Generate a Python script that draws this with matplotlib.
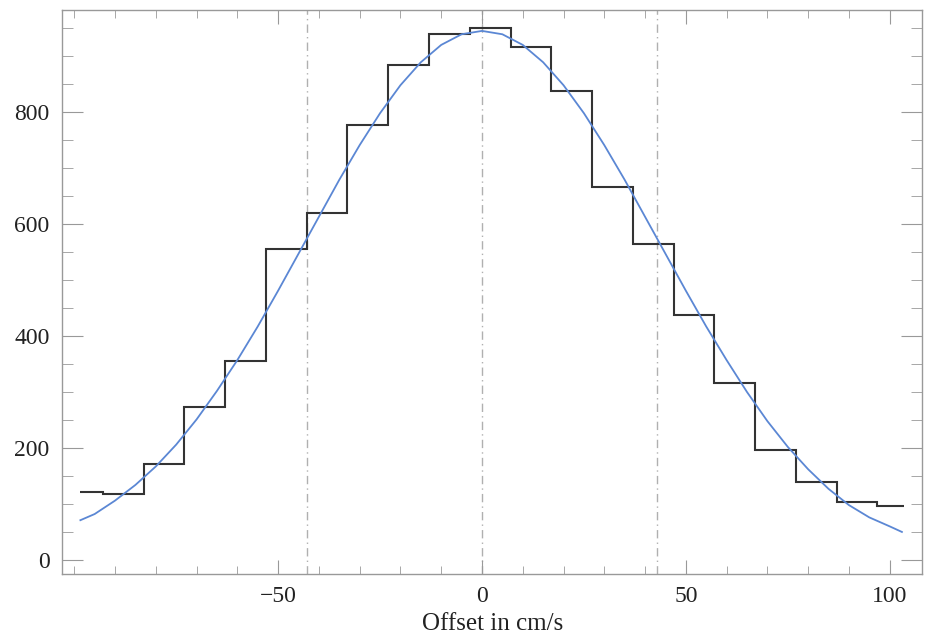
import numpy as np
import matplotlib
matplotlib.use("Agg")
from matplotlib import pyplot as plt
from matplotlib.ticker import MultipleLocator

# histogram
bin_edges = [-98.5, -93, -83, -73, -63, -53, -43, -33, -23, -13, -3,
             7, 17, 27, 37, 47, 57, 67, 77, 87, 97, 103.5]
counts = [121, 117, 171, 274, 356, 555, 620, 777, 884, 939, 950,
          917, 838, 667, 564, 437, 316, 196, 139, 103, 96]

# fitted curve
fit_x = [-98.5, -95, -90, -85, -80, -75, -70, -65, -60, -55, -50, -45, -40,
         -35, -30, -25, -20, -15, -10, -5, 0, 5, 10, 15, 20, 25, 30, 35, 40,
         45, 50, 55, 60, 65, 70, 75, 80, 85, 90, 95, 100, 103]
fit_y = [71, 82, 106, 134, 167, 206, 251, 302, 357, 417, 481, 547, 613,
         679, 741, 798, 848, 889, 920, 939, 945, 939, 920, 889, 848, 798,
         741, 679, 613, 547, 481, 417, 357, 300, 248, 202, 162, 127, 98,
         76, 60, 50]

# mean and +-sigma markers
marker_x = [-43, 0, 43]

plt.rcParams['font.family'] = ['Liberation Serif', 'DejaVu Serif']

fig = plt.figure(figsize=(9.26, 6.37), dpi=100)
ax = fig.add_axes([0.067, 0.099, 0.929, 0.885])

for xv in marker_x:
    ax.axvline(xv, color='#b0b0b0', lw=1.0, ls=(0, (6, 3, 1, 3)), zorder=1)

ax.stairs(counts, bin_edges, baseline=None, color='#333333', lw=1.5, zorder=2)
ax.plot(fit_x, fit_y, color='#5b87d4', lw=1.3, zorder=3)

ax.set_xlim(-103, 108)
ax.set_ylim(-25, 982)
ax.set_xticks([-50, 0, 50, 100])
ax.set_yticks([0, 200, 400, 600, 800])
ax.xaxis.set_minor_locator(MultipleLocator(10))
ax.yaxis.set_minor_locator(MultipleLocator(50))
ax.tick_params(which='both', direction='in', top=True, right=True,
               color='#999999', labelsize=17, labelcolor='#222222', pad=9)
ax.tick_params(axis='y', which='major', length=15, width=0.8)
ax.tick_params(axis='y', which='minor', length=8, width=0.6)
ax.tick_params(axis='x', which='major', length=10, width=0.8)
ax.tick_params(axis='x', which='minor', length=6, width=0.6)
for sp in ax.spines.values():
    sp.set_color('#999999')
    sp.set_linewidth(1.0)

ax.set_xlabel("Offset in cm/s", fontsize=18, color='#222222', labelpad=4)

fig.savefig("out.png", dpi=100)
